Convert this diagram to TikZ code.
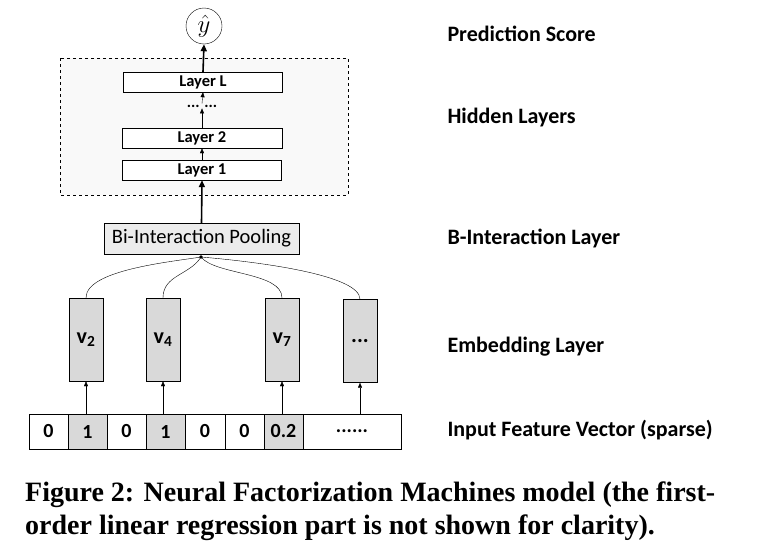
\documentclass[tikz,border=0pt]{standalone}
\usepackage{fontspec}
\setmainfont{Carlito}
\newfontfamily\capfont{Liberation Serif}
\usetikzlibrary{arrows.meta}
\begin{document}
\begin{tikzpicture}[x=1pt,y=-1pt,
  lay/.style={draw,fill=white,minimum height=20pt,inner sep=0pt,font=\bfseries\fontsize{16.5}{16.5}\selectfont},
  emb/.style={draw,fill=gray!30,minimum width=34pt,minimum height=83pt,inner sep=0pt,font=\bfseries\fontsize{22}{22}\selectfont},
  cell/.style={draw,minimum height=35pt,inner sep=0pt,font=\bfseries\fontsize{20}{20}\selectfont},
  lab/.style={anchor=west,font=\bfseries\fontsize{22}{22}\selectfont},
  arr/.style={-{Triangle[length=5pt,width=4pt]}},
  thk/.style={line width=1.6pt,-{Triangle[length=7pt,width=6pt]}}]
\useasboundingbox (0,0) rectangle (757,549);
\draw[dashed,fill=gray!5,line width=0.8pt] (60,58) rectangle (348,195);
\node[draw,circle,minimum size=36pt,inner sep=0pt,font=\fontsize{24}{24}\selectfont] (y) at (204,26) {$\hat{y}$};
\node[lay,minimum width=159pt] (lL) at (203,82) {Layer L};
\node[font=\bfseries\fontsize{16}{16}\selectfont,inner sep=1pt] (dots) at (202,106) {... ...};
\node[lay,minimum width=160pt] (l2) at (202,138) {Layer 2};
\node[lay,minimum width=159pt] (l1) at (202,170) {Layer 1};
\node[draw,fill=gray!15,minimum width=195pt,minimum height=31pt,inner sep=0pt,font=\fontsize{20.5}{20.5}\selectfont] (bi) at (201.5,238.5) {Bi-Interaction Pooling};
\coordinate (c) at (201,257);
\fill (c) circle (1.8pt);
\draw[thk] (lL.north) -- (y.south);
\draw[thk] (bi.north) -- (l1.south);
\draw[arr] (l1.north) -- (l2.south);
\draw[arr] (l2.north) -- (dots.south);
\draw[arr] (dots.north) -- (lL.south);
\node[emb] (v2) at (86,339.5) {v\textsubscript{2}};
\node[emb] (v4) at (163,339.5) {v\textsubscript{4}};
\node[emb] (v7) at (282,339.5) {v\textsubscript{7}};
\node[emb] (vd) at (360,341) {...};
\draw (v2.north) .. controls (86,270) and (170,262) .. (c);
\draw (v4.north) .. controls (163,275) and (190,275) .. (c);
\draw (v7.north) .. controls (282,272) and (215,275) .. (c);
\draw (vd.north) .. controls (360,275) and (260,262) .. (c);
\node[cell,minimum width=39pt] (x1) at (48.5,431.5) {0};
\node[cell,minimum width=39pt,fill=gray!30] (x2) at (87.5,431.5) {1};
\node[cell,minimum width=39pt] (x3) at (126.5,431.5) {0};
\node[cell,minimum width=39pt,fill=gray!30] (x4) at (165.5,431.5) {1};
\node[cell,minimum width=40pt] (x5) at (205,431.5) {0};
\node[cell,minimum width=39pt] (x6) at (244.5,431.5) {0};
\node[cell,minimum width=39pt,fill=gray!30] (x7) at (283.5,431.5) {0.2};
\node[cell,minimum width=98pt] (x8) at (352,431.5) {......};
\coordinate (a1) at (86,414); \coordinate (a2) at (163,414);
\coordinate (a3) at (282,414); \coordinate (a4) at (360,414);
\draw[arr] (a1) -- (v2.south);
\draw[arr] (a2) -- (v4.south);
\draw[arr] (a3) -- (v7.south);
\draw[arr] (a4) -- (vd.south);
\node[lab] (t1) at (444,34) {Prediction Score};
\node[lab] (t2) at (444,118) {Hidden Layers};
\node[lab] (t3) at (444,238) {B-Interaction Layer};
\node[lab] (t4) at (444,347) {Embedding Layer};
\node[lab] (t5) at (444,430) {Input Feature Vector (sparse)};
\node[anchor=north west,text width=722pt,align=justify,inner sep=0pt,font=\capfont\bfseries\fontsize{28}{33}\selectfont] (cap) at (25,482) {Figure 2: Neural Factorization Machines model (the first-\\order linear regression part is not shown for clarity).};
\end{tikzpicture}
\end{document}
